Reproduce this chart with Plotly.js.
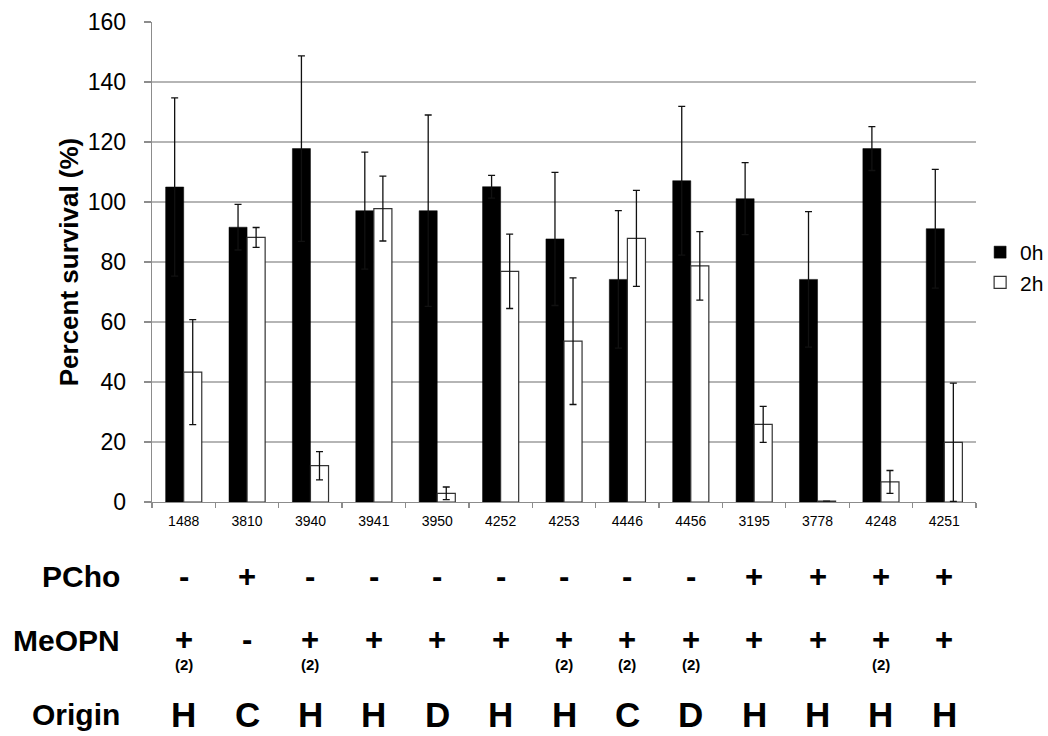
<!DOCTYPE html>
<html>
<head>
<meta charset="utf-8">
<script src="https://cdn.plot.ly/plotly-3.0.1.min.js"></script>
<style>html,body{margin:0;padding:0;background:#fff;}#chart{width:1048px;height:736px;}</style>
</head>
<body>
<div id="chart"></div>
<script>
const categories = ['1488','3810','3940','3941','3950','4252','4253','4446','4456','3195','3778','4248','4251'];
const survival0h = [105, 91.6, 117.8, 97.1, 97.1, 105.1, 87.7, 74.2, 107.1, 101.1, 74.2, 117.8, 91.1];
const error0h = [29.7, 7.6, 30.9, 19.5, 31.9, 3.8, 22.2, 22.9, 24.8, 12, 22.6, 7.3, 19.8];
const survival2h = [43.3, 88.2, 12.1, 97.8, 2.9, 76.9, 53.6, 87.9, 78.7, 25.9, 0.3, 6.7, 19.9];
const error2h = [17.5, 3.3, 4.7, 10.8, 2.1, 12.4, 21.1, 16, 11.4, 6, 0, 3.8, 19.7];
const pchoRow = ['-','+','-','-','-','-','-','-','-','+','+','+','+'];
const meopnRow = ['+','-','+','+','+','+','+','+','+','+','+','+','+'];
const meopnNote = ['(2)','','(2)','','','','(2)','(2)','(2)','','','(2)',''];
const originRow = ['H','C','H','H','D','H','H','C','D','H','H','H','H'];
const rowLabels = ['PCho','MeOPN','Origin'];

const FONT = 'Liberation Sans, Arial, sans-serif';

const traces = [
  {
    type: 'bar', name: '0h', x: categories, y: survival0h,
    marker: {color: '#000000', line: {color: '#000000', width: 0.5}},
    error_y: {type: 'data', array: error0h, visible: true, color: '#111111', thickness: 1.3, width: 3.5}
  },
  {
    type: 'bar', name: '2h', x: categories, y: survival2h,
    marker: {color: '#ffffff', line: {color: '#333333', width: 1.2}},
    error_y: {type: 'data', array: error2h, visible: true, color: '#111111', thickness: 1.3, width: 3.5}
  }
];

function py(p) { return (502 - p) / 480; }

const annotations = [];
const rowY = [py(576), py(640), py(714)];
rowLabels.forEach((t, i) => {
  annotations.push({xref: 'paper', yref: 'paper', x: -0.037, y: rowY[i], xanchor: 'right', yanchor: 'middle',
    text: '<b>' + t + '</b>', showarrow: false, font: {family: FONT, size: 30, color: '#000'}});
});
categories.forEach((c, i) => {
  annotations.push({xref: 'x', yref: 'paper', x: i, y: rowY[0], xanchor: 'center', yanchor: 'middle',
    text: '<b>' + pchoRow[i] + '</b>', showarrow: false, font: {family: FONT, size: 31, color: '#000'}});
  annotations.push({xref: 'x', yref: 'paper', x: i, y: py(639), xanchor: 'center', yanchor: 'middle',
    text: '<b>' + meopnRow[i] + '</b>', showarrow: false, font: {family: FONT, size: 31, color: '#000'}});
  if (meopnNote[i]) {
    annotations.push({xref: 'x', yref: 'paper', x: i, y: py(664), xanchor: 'center', yanchor: 'middle',
      text: '<b>' + meopnNote[i] + '</b>', showarrow: false, font: {family: FONT, size: 15, color: '#000'}});
  }
  annotations.push({xref: 'x', yref: 'paper', x: i, y: rowY[2], xanchor: 'center', yanchor: 'middle',
    text: '<b>' + originRow[i] + '</b>', showarrow: false, font: {family: FONT, size: 35, color: '#000'}});
});

const layout = {
  width: 1048, height: 736,
  margin: {l: 152, r: 72, t: 22, b: 234, pad: 0, autoexpand: false},
  paper_bgcolor: '#ffffff', plot_bgcolor: '#ffffff',
  font: {family: FONT, color: '#000'},
  barmode: 'group', bargap: 0.43, bargroupgap: 0,
  showlegend: true,
  legend: {x: 1.005, y: py(232), xanchor: 'left', yanchor: 'top', font: {family: FONT, size: 21, color: '#000'},
    traceorder: 'normal', bgcolor: 'rgba(0,0,0,0)', borderwidth: 0},
  xaxis: {
    type: 'category', range: [-0.5, 12.5], autorange: false, automargin: false,
    showline: true, linecolor: '#8c8c8c', linewidth: 1.3,
    ticks: 'outside', tickson: 'boundaries', ticklen: 5, tickcolor: '#8c8c8c', tickwidth: 1.3,
    showgrid: false, tickangle: 0, tickfont: {family: FONT, size: 14, color: '#000'}, ticklabelstandoff: 6
  },
  yaxis: {
    range: [0, 160], dtick: 20, automargin: false,
    showline: true, linecolor: '#8c8c8c', linewidth: 1.3,
    ticks: 'outside', ticklen: 7, tickcolor: '#8c8c8c', tickwidth: 1.3,
    showgrid: true, gridcolor: '#b5b5b5', gridwidth: 1.3, zeroline: false,
    tickfont: {family: FONT, size: 23, color: '#000'}, ticklabelstandoff: 13,
    title: {text: '<b>Percent survival (%)</b>', font: {family: FONT, size: 26, color: '#000'}, standoff: 1}
  },
  annotations: annotations
};

Plotly.newPlot('chart', traces, layout, {displayModeBar: false, staticPlot: true});
</script>
</body>
</html>
